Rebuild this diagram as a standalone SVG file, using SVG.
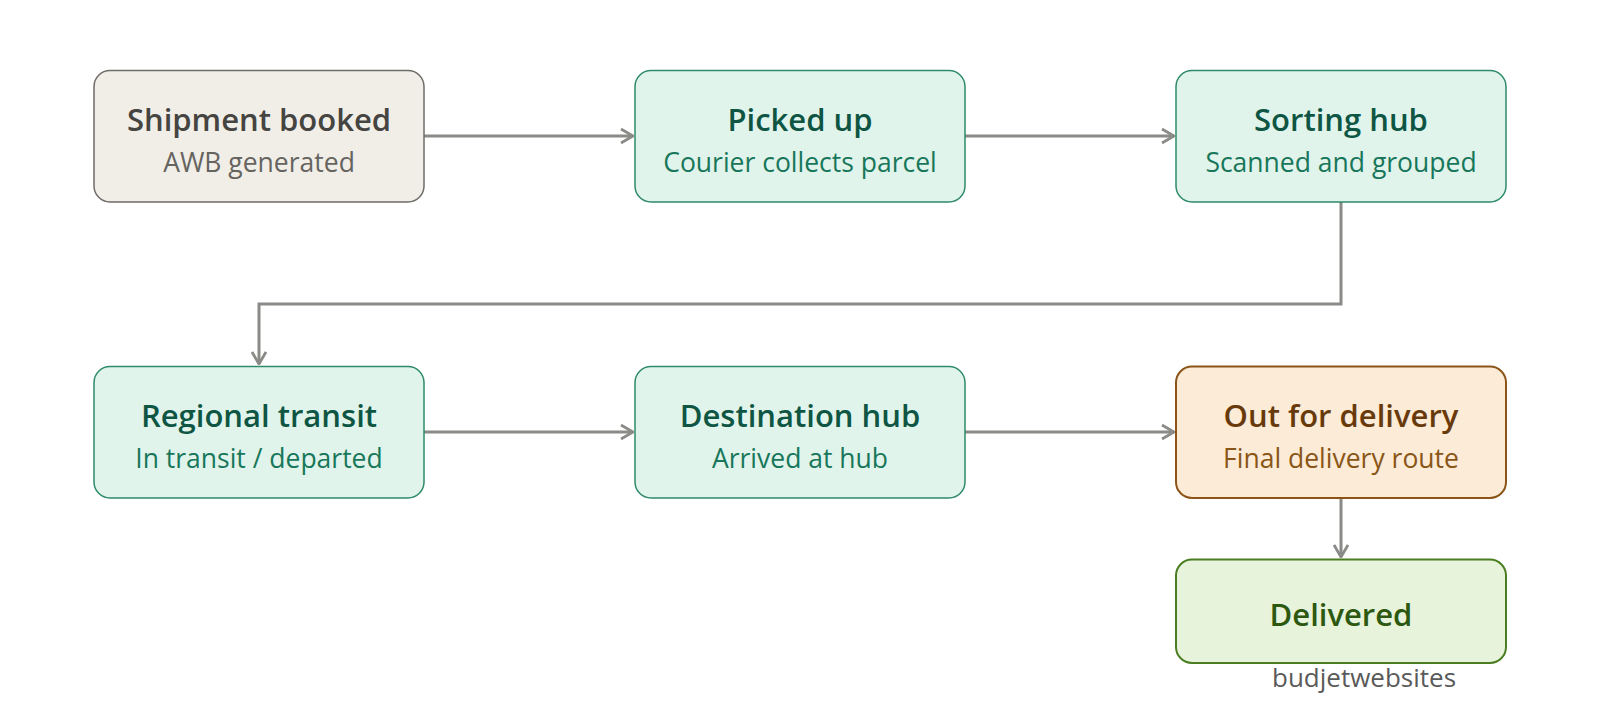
<svg xmlns="http://www.w3.org/2000/svg" width="1600" height="718" viewBox="0 0 1600 718">
<style>
.t{font-family:"Open Sans","Noto Sans","Liberation Sans",sans-serif;font-size:31px;font-weight:600;text-anchor:middle}
.s{font-family:"Open Sans","Noto Sans","Liberation Sans",sans-serif;font-size:26.5px;text-anchor:middle}
.g rect{fill:#e1f4ec;stroke:#2e8a68;stroke-width:1.5}
.g .t{fill:#0e5643}.g .s{fill:#18775a}
.c{fill:none;stroke:#8a8a86;stroke-width:3}
</style>
<defs>
<marker id="a" viewBox="0 0 14 16" refX="13" refY="8" markerWidth="14" markerHeight="16" markerUnits="userSpaceOnUse" orient="auto">
<path d="M1 1 L13 8 L1 15" fill="none" stroke="#8a8a86" stroke-width="2.8"/>
</marker>
</defs>
<rect width="1600" height="718" fill="#fff"/>
<g id="connectors">
<path class="c" d="M424 136 H633" marker-end="url(#a)"/>
<path class="c" d="M965 136 H1174" marker-end="url(#a)"/>
<path class="c" d="M1341 202 V304 H259 V364" marker-end="url(#a)"/>
<path class="c" d="M424 432 H633" marker-end="url(#a)"/>
<path class="c" d="M965 432 H1174" marker-end="url(#a)"/>
<path class="c" d="M1341 498 V557" marker-end="url(#a)"/>
</g>
<g id="n1">
<rect x="94" y="70.5" width="330" height="131.5" rx="16" fill="#f1eee8" stroke="#6e6c68" stroke-width="1.5"/>
<text class="t" x="259" y="131" fill="#454441">Shipment booked</text>
<text class="s" x="259" y="172" fill="#66645f">AWB generated</text>
</g>
<g id="n2" class="g">
<rect x="635" y="70.5" width="330" height="131.5" rx="16"/>
<text class="t" x="800" y="131">Picked up</text>
<text class="s" x="800" y="172">Courier collects parcel</text>
</g>
<g id="n3" class="g">
<rect x="1176" y="70.5" width="330" height="131.5" rx="16"/>
<text class="t" x="1341" y="131">Sorting hub</text>
<text class="s" x="1341" y="172">Scanned and grouped</text>
</g>
<g id="n4" class="g">
<rect x="94" y="366.5" width="330" height="131.5" rx="16"/>
<text class="t" x="259" y="427">Regional transit</text>
<text class="s" x="259" y="468">In transit / departed</text>
</g>
<g id="n5" class="g">
<rect x="635" y="366.5" width="330" height="131.5" rx="16"/>
<text class="t" x="800" y="427">Destination hub</text>
<text class="s" x="800" y="468">Arrived at hub</text>
</g>
<g id="n6">
<rect x="1176" y="366.5" width="330" height="131.5" rx="16" fill="#fbebd7" stroke="#8b5519" stroke-width="2"/>
<text class="t" x="1341" y="427" fill="#683a0b">Out for delivery</text>
<text class="s" x="1341" y="468" fill="#8a5617">Final delivery route</text>
</g>
<g id="n7">
<rect x="1176" y="559.5" width="330" height="103.5" rx="16" fill="#e8f3dc" stroke="#4b7e23" stroke-width="2"/>
<text class="t" x="1341" y="626" fill="#2d5810">Delivered</text>
</g>
<text class="s" x="1364" y="687" fill="#5a5a5a" style="font-size:26px">budjetwebsites</text>
</svg>
